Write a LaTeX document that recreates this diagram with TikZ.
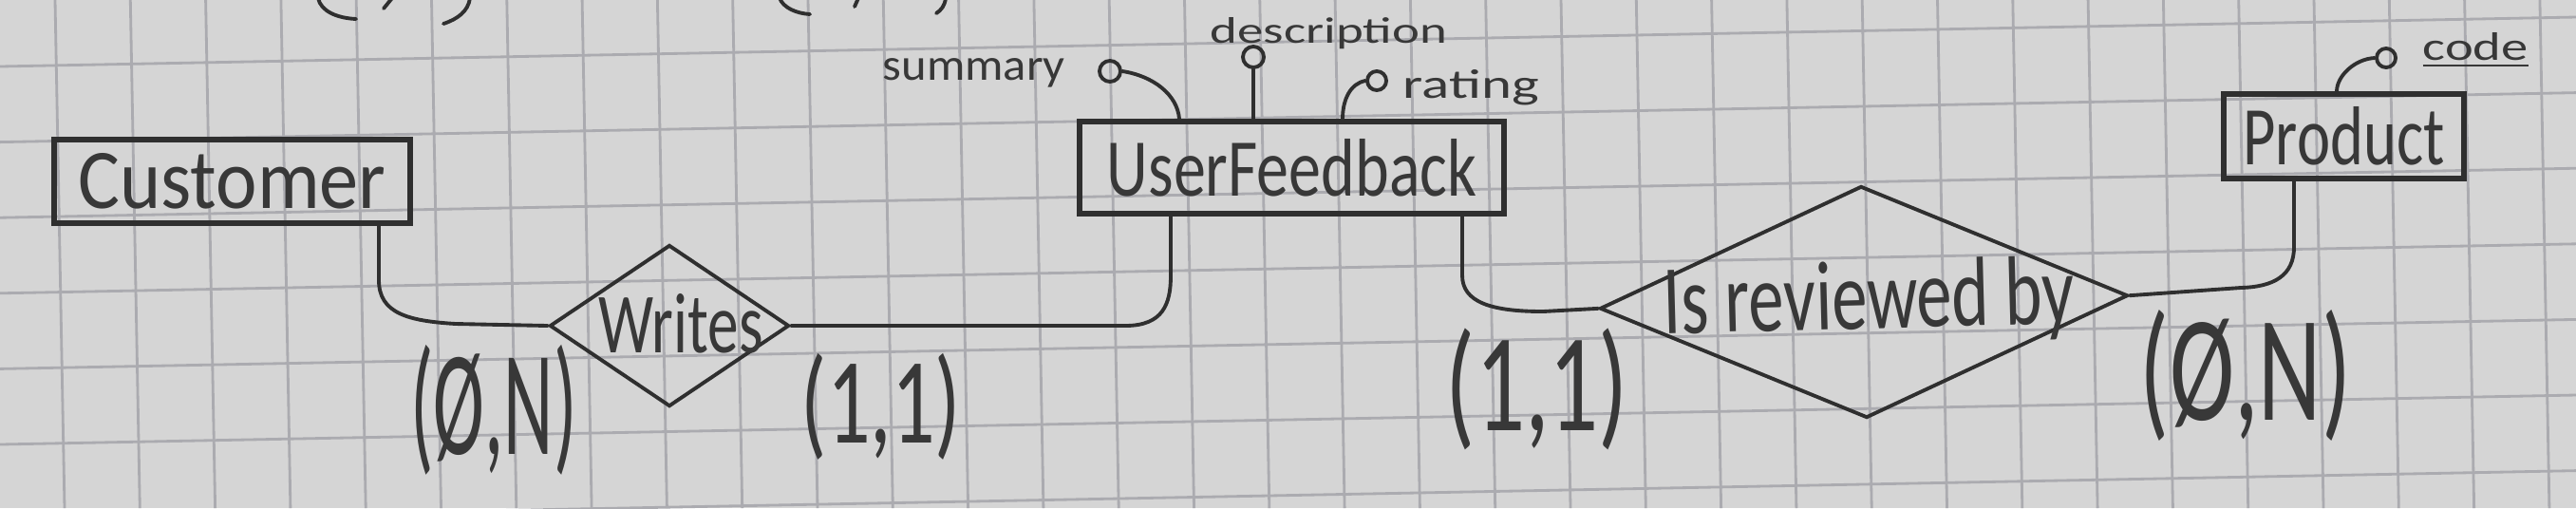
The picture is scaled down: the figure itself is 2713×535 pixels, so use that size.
\documentclass[tikz,border=0pt]{standalone}
\usepackage{fontspec}
\setmainfont{Carlito}
\usepackage{graphicx}
\usetikzlibrary{shapes.geometric,calc}
\definecolor{paper}{HTML}{D5D5D5}
\definecolor{gridc}{HTML}{ABABB0}
\definecolor{ink}{HTML}{2F2F2F}
\definecolor{tink}{HTML}{383838}
\tikzset{
  entity/.style={draw=ink, line width=1.6pt, rectangle, inner sep=0pt, text=tink},
  relbox/.style={draw=ink, line width=1.1pt, diamond, inner sep=0pt},
  attr/.style={draw=ink, line width=1.1pt, circle, inner sep=0pt, minimum size=0.22cm},
  conn/.style={draw=ink, line width=1.1pt, line cap=round, line join=round},
  txt/.style={inner sep=0pt, text=tink},
  gridline/.style={draw=gridc, line width=0.8pt},
}
\begin{document}
\begin{tikzpicture}[x=0.01cm, y=-0.01cm]
\useasboundingbox (0,0) rectangle (2713,535);
\clip (0,0) rectangle (2713,535);
\fill[paper] (0,0) rectangle (2713,535);
% squared paper
\foreach \k in {0,...,6} \draw[gridline] (0,{70+79.6*\k}) -- (2713,{18+79.6*\k});
\foreach \k in {0,...,34} \draw[gridline] ({58+79.3*\k},0) -- ({68+79.3*\k},535);

% entities
\node[entity, minimum width=3.75cm, minimum height=0.88cm] (cust) at (244.5,191) {\resizebox{3.24cm}{0.58cm}{Customer}};
\node[entity, minimum width=4.47cm, minimum height=0.97cm] (uf) at (1360.5,176.5) {\resizebox{3.89cm}{0.60cm}{UserFeedback}};
\node[entity, minimum width=2.53cm, minimum height=0.89cm] (prod) at (2468.5,143.5) {\resizebox{2.12cm}{0.61cm}{Product}};

% relationships
\node[relbox, minimum width=2.52cm, minimum height=1.70cm] (wr) at (705,343) {};
\node[txt] (wrt) at (717,341) {\resizebox{1.73cm}{0.62cm}{Writes}};
\node[relbox, rotate=1.4, minimum width=5.56cm, minimum height=2.44cm] (irb) at (1963,318) {};
\node[txt, anchor=base, rotate=1.5] (irbt) at (1969,346) {\resizebox{4.33cm}{0.72cm}{Is reviewed by}};

% attributes
\node[attr] (asum) at (1169,75) {};
\node[attr] (adesc) at (1320,60) {};
\node[attr, minimum size=0.2cm] (arat) at (1450,85) {};
\node[attr, minimum size=0.2cm] (acode) at (2513,61) {};
\node[txt, anchor=base west] (tsum) at (929,84) {\resizebox{1.92cm}{0.23cm}{summary}};
\node[txt, anchor=base west] (tdesc) at (1274,45) {\resizebox{2.49cm}{0.27cm}{description}};
\node[txt, anchor=base west] (trat) at (1477,103) {\resizebox{1.43cm}{0.30cm}{rating}};
\node[txt, anchor=base west] (tcode) at (2551,63) {\resizebox{1.11cm}{0.29cm}{\underline{code}}};

\draw[conn] (asum.east) .. controls (1215,80) and (1240,100) .. (1242,0 |- uf.north);
\draw[conn] (adesc.south) -- (adesc.south |- uf.north);
\draw[conn] (arat.west) .. controls (1422,88) and (1414,105) .. (1414,0 |- uf.north);
\draw[conn] (acode.west) .. controls (2480,62) and (2461,80) .. (2461,0 |- prod.north);

% connectors
\draw[conn] (399,0 |- cust.south) -- (399,295) .. controls (399,330) and (430,338) .. (480,341) -- (wr.west);
\draw[conn] (wr.east) -- (1185,343) .. controls (1225,343) and (1233,320) .. (1233,290) -- (1233,0 |- uf.south);
\draw[conn] (1540,0 |- uf.south) -- (1540,290) .. controls (1540,318) and (1570,328) .. (1625,328) -- (irb.west);
\draw[conn] (2416,0 |- prod.south) -- (2416,260) .. controls (2416,290) and (2395,302) .. (2360,303) -- (irb.east);

% cardinalities
\node[txt] (c1) at (520,432) {\resizebox*{1.75cm}{1.37cm}{(Ø,N)}};
\node[txt] (c2) at (928,428) {\resizebox*{1.68cm}{1.12cm}{(1,1)}};
\node[txt] (c3) at (1619,410) {\resizebox*{1.92cm}{1.28cm}{(1,1)}};
\node[txt] (c4) at (2365,395) {\resizebox*{2.22cm}{1.38cm}{(Ø,N)}};

% pen strokes of the row above, cut off at the top edge
\draw[conn] (335,-2) .. controls (338,12) and (355,19) .. (375,20);
\draw[conn] (413,-2) -- (404,9);
\draw[conn] (495,-2) .. controls (493,12) and (482,20) .. (467,25);
\draw[conn] (821,-2) .. controls (825,8) and (838,14) .. (853,15);
\draw[conn] (904,-2) -- (900,7);
\draw[conn] (996,-2) .. controls (995,6) and (991,11) .. (986,14);
\end{tikzpicture}
\end{document}
